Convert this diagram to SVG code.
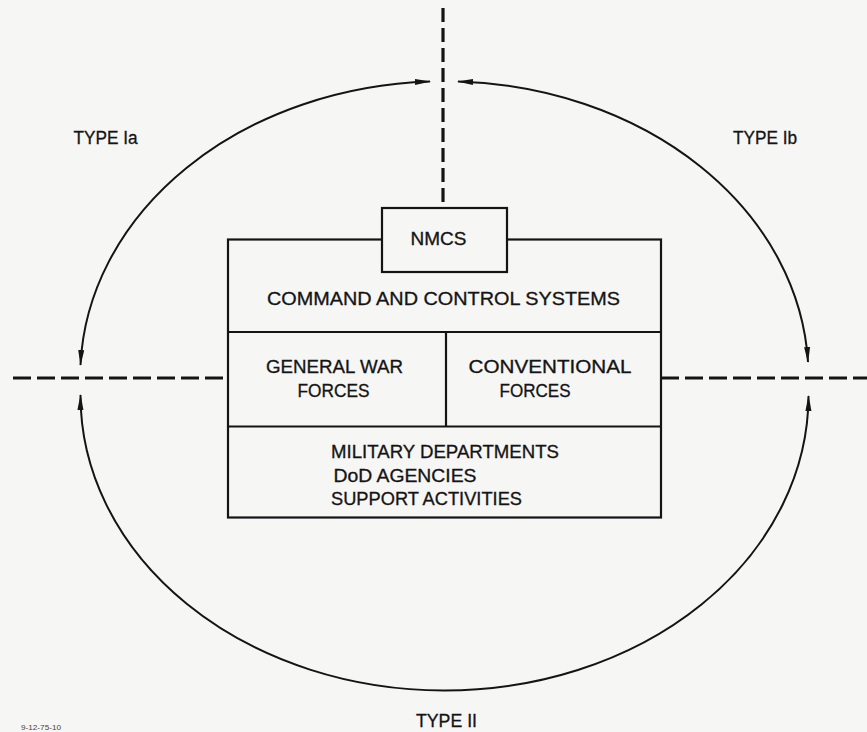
<svg xmlns="http://www.w3.org/2000/svg" width="867" height="732" viewBox="0 0 867 732">
  <style>
    .bg { fill: #f6f6f4; }
    .box { fill: none; stroke: #141414; stroke-width: 2.2; }
    .t { font-family: "Liberation Sans", Arial, sans-serif; fill: #141414; font-size: 18px; stroke: #141414; stroke-width: 0.3; }
    .lbl { font-family: "Liberation Sans", Arial, sans-serif; fill: #141414; font-size: 18px; stroke: #141414; stroke-width: 0.3; }
    .arc { fill: none; stroke: #141414; stroke-width: 2; marker-start: url(#ah); marker-end: url(#ah); }
    .dash { fill: none; stroke: #141414; stroke-width: 3.2; }
  </style>
  <defs>
    <marker id="ah" viewBox="0 0 16 8" refX="15" refY="4" markerWidth="16" markerHeight="8" markerUnits="userSpaceOnUse" orient="auto-start-reverse">
      <path d="M0,1 L16,4 L0,7 Z" fill="#141414"/>
    </marker>
  </defs>
  <rect class="bg" x="0" y="0" width="867" height="732"/>

  <g id="connectors">
    <line class="dash" x1="443" y1="8" x2="443" y2="208" stroke-dasharray="14 6"/>
    <line class="dash" x1="13" y1="378" x2="228" y2="378" stroke-dasharray="18 6"/>
    <line class="dash" x1="661" y1="378" x2="867" y2="378" stroke-dasharray="18 6"/>
    <path id="arc-top-left" class="arc" d="M 430 81.5 A 364 295 0 0 0 80.5 365"/>
    <path id="arc-top-right" class="arc" d="M 458 81.5 A 364 295 0 0 1 808 362"/>
    <path id="arc-bottom" class="arc" d="M 80.5 395 A 364 295 0 0 0 808.5 396"/>
  </g>

  <g id="main-box">
    <rect class="box" x="228" y="239.5" width="433" height="278"/>
  </g>

  <g id="nmcs">
    <rect class="box" x="382" y="208" width="125" height="64" style="fill:#f6f6f4"/>
    <text class="t" x="438.5" y="245" text-anchor="middle" font-size="16" textLength="56" lengthAdjust="spacingAndGlyphs">NMCS</text>
  </g>

  <g id="command-control">
    <line class="box" x1="228" y1="332" x2="661" y2="332"/>
    <text class="t" x="267" y="305" textLength="353" lengthAdjust="spacingAndGlyphs">COMMAND AND CONTROL SYSTEMS</text>
  </g>

  <g id="general-war">
    <line class="box" x1="446" y1="332" x2="446" y2="426.5"/>
    <text class="t" x="266" y="373" textLength="137" lengthAdjust="spacingAndGlyphs">GENERAL WAR</text>
    <text class="t" x="297.5" y="397" textLength="72" lengthAdjust="spacingAndGlyphs">FORCES</text>
  </g>

  <g id="conventional">
    <text class="t" x="468.5" y="373" textLength="163" lengthAdjust="spacingAndGlyphs">CONVENTIONAL</text>
    <text class="t" x="499.5" y="397" textLength="71" lengthAdjust="spacingAndGlyphs">FORCES</text>
  </g>

  <g id="support">
    <line class="box" x1="228" y1="426.5" x2="661" y2="426.5"/>
    <text class="t" x="331" y="458" textLength="228" lengthAdjust="spacingAndGlyphs">MILITARY DEPARTMENTS</text>
    <text class="t" x="333.5" y="482" textLength="143" lengthAdjust="spacingAndGlyphs">DoD AGENCIES</text>
    <text class="t" x="331" y="504.5" textLength="191" lengthAdjust="spacingAndGlyphs">SUPPORT ACTIVITIES</text>
  </g>

  <g id="type-ia">
    <text class="lbl" x="73.5" y="144" textLength="64" lengthAdjust="spacingAndGlyphs">TYPE Ia</text>
  </g>
  <g id="type-ib">
    <text class="lbl" x="733" y="144" textLength="64" lengthAdjust="spacingAndGlyphs">TYPE Ib</text>
  </g>
  <g id="type-ii">
    <text class="lbl" x="416" y="727" font-size="17" textLength="61" lengthAdjust="spacingAndGlyphs">TYPE II</text>
  </g>
  <g id="ref-number">
    <text x="21" y="730" font-family="Liberation Sans, Arial, sans-serif" font-size="8" fill="#444" textLength="40" lengthAdjust="spacingAndGlyphs">9-12-75-10</text>
  </g>
</svg>
